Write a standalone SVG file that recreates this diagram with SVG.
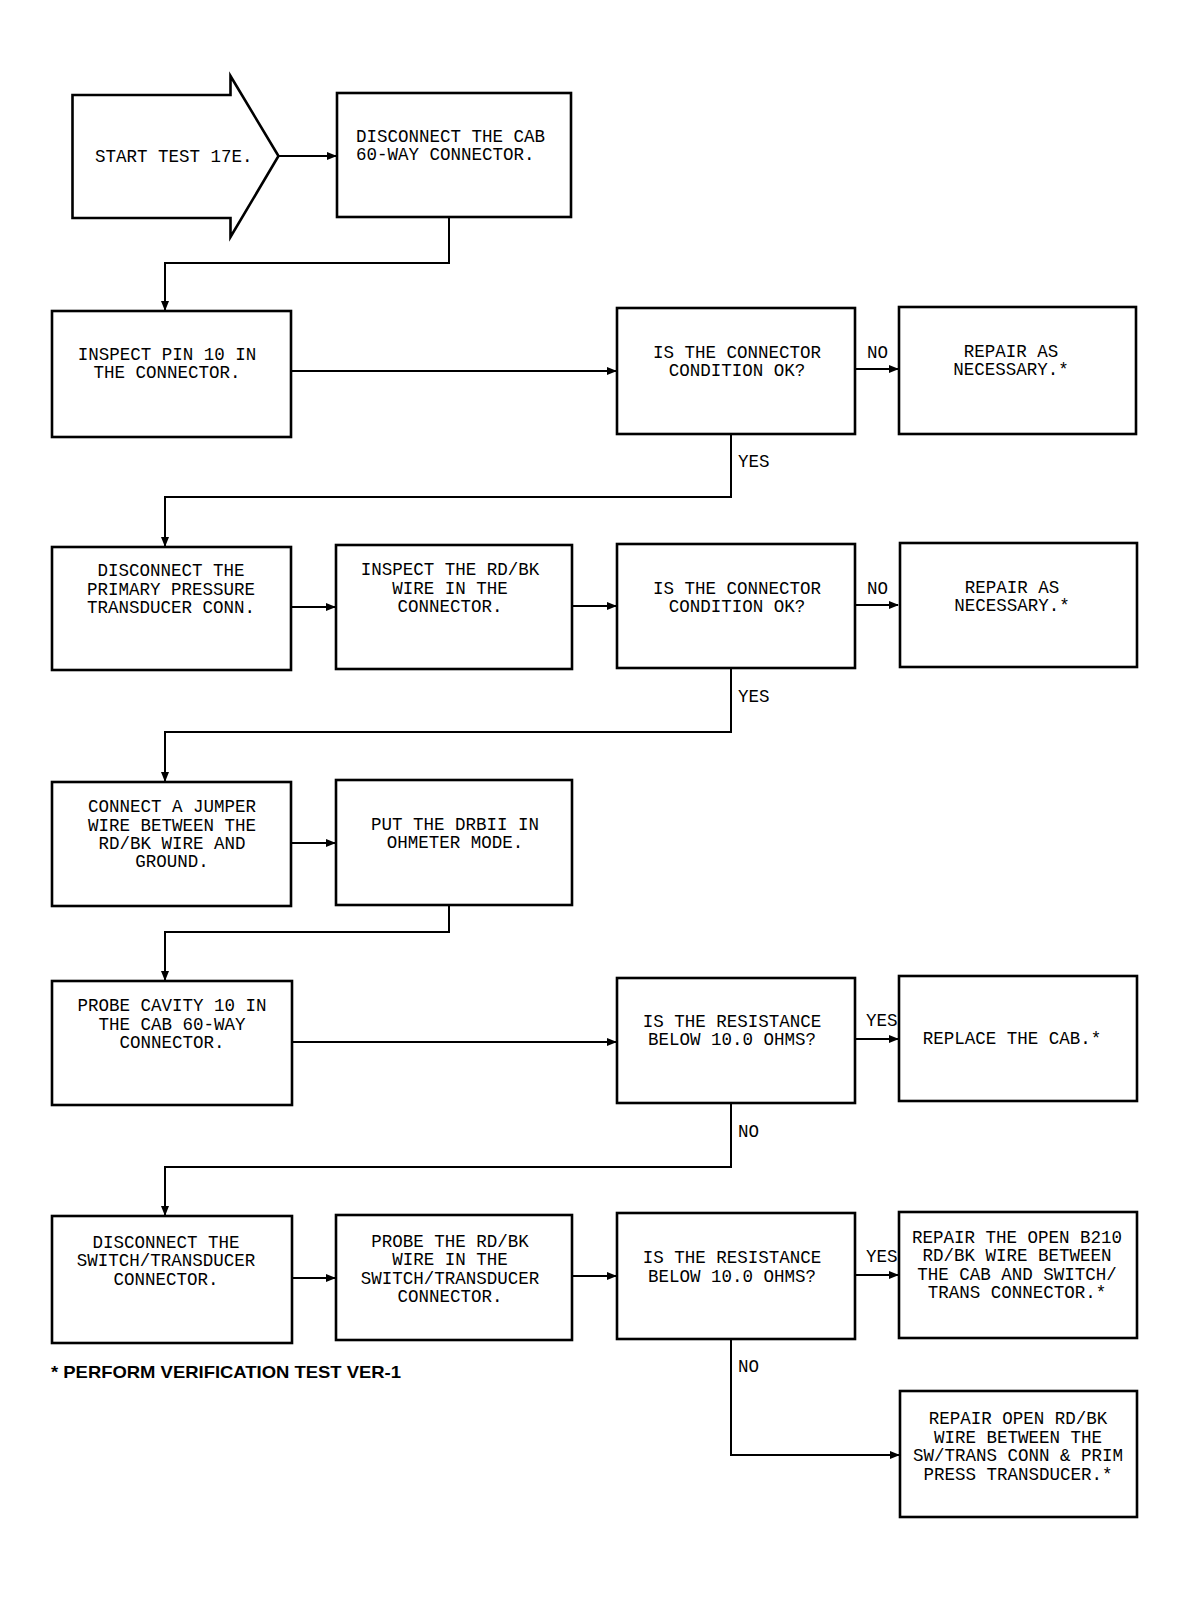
<svg xmlns="http://www.w3.org/2000/svg" width="1194" height="1602" viewBox="0 0 1194 1602">
<style>
.box{fill:#fff;stroke:#000;stroke-width:2.6}
.t{font-family:"Liberation Mono","DejaVu Sans Mono",monospace;font-size:17.5px;fill:#000;text-anchor:middle}
.ts{text-anchor:start}
.c{fill:none;stroke:#000;stroke-width:2}
.lbl{font-family:"Liberation Mono","DejaVu Sans Mono",monospace;font-size:17.5px;fill:#000}
.note{font-family:"Liberation Sans",Arial,sans-serif;font-weight:bold;font-size:17px;fill:#000}
</style>
<defs>
<marker id="ah" markerWidth="10" markerHeight="8" refX="9" refY="4" orient="auto" markerUnits="userSpaceOnUse">
<path d="M0,0 L10,4 L0,8 Z" fill="#000"/>
</marker>
</defs>
<rect width="1194" height="1602" fill="#fff"/>

<g id="connectors">
<line class="c" x1="279" y1="156" x2="336" y2="156" marker-end="url(#ah)"/>
<polyline class="c" points="449,217 449,263 165,263 165,310" marker-end="url(#ah)"/>
<line class="c" x1="291" y1="371" x2="616" y2="371" marker-end="url(#ah)"/>
<line class="c" x1="855" y1="369" x2="898" y2="369" marker-end="url(#ah)"/>
<polyline class="c" points="731,434 731,497 165,497 165,546" marker-end="url(#ah)"/>
<line class="c" x1="291" y1="607" x2="335" y2="607" marker-end="url(#ah)"/>
<line class="c" x1="572" y1="606" x2="616" y2="606" marker-end="url(#ah)"/>
<line class="c" x1="855" y1="605" x2="898" y2="605" marker-end="url(#ah)"/>
<polyline class="c" points="731,668 731,732 165,732 165,781" marker-end="url(#ah)"/>
<line class="c" x1="291" y1="843" x2="335" y2="843" marker-end="url(#ah)"/>
<polyline class="c" points="449,905 449,932 165,932 165,980" marker-end="url(#ah)"/>
<line class="c" x1="292" y1="1042" x2="616" y2="1042" marker-end="url(#ah)"/>
<line class="c" x1="855" y1="1039" x2="898" y2="1039" marker-end="url(#ah)"/>
<polyline class="c" points="731,1103 731,1167 165,1167 165,1215" marker-end="url(#ah)"/>
<line class="c" x1="292" y1="1278" x2="335" y2="1278" marker-end="url(#ah)"/>
<line class="c" x1="572" y1="1276" x2="616" y2="1276" marker-end="url(#ah)"/>
<line class="c" x1="855" y1="1275" x2="898" y2="1275" marker-end="url(#ah)"/>
<polyline class="c" points="731,1339 731,1455 899,1455" marker-end="url(#ah)"/>
<text class="lbl" x="867" y="358">NO</text>
<text class="lbl" x="738" y="467">YES</text>
<text class="lbl" x="867" y="594">NO</text>
<text class="lbl" x="738" y="702">YES</text>
<text class="lbl" x="866" y="1026">YES</text>
<text class="lbl" x="738" y="1137">NO</text>
<text class="lbl" x="866" y="1262">YES</text>
<text class="lbl" x="738" y="1372">NO</text>
</g>

<g id="start">
<polygon class="box" points="72.5,95 230.5,95 230.5,76 278.5,156 230.5,237 230.5,218 72.5,218"/>
<text class="t ts" x="95" y="162">START TEST 17E.</text>
</g>

<g id="n1">
<rect class="box" x="337" y="93" width="234" height="124"/>
<text class="t ts" x="356" y="142">DISCONNECT THE CAB</text>
<text class="t ts" x="356" y="160">60-WAY CONNECTOR.</text>
</g>

<g id="n2">
<rect class="box" x="52" y="311" width="239" height="126"/>
<text class="t" x="167" y="360">INSPECT PIN 10 IN</text>
<text class="t" x="167" y="378">THE CONNECTOR.</text>
</g>

<g id="d1">
<rect class="box" x="617" y="308" width="238" height="126"/>
<text class="t" x="737" y="358">IS THE CONNECTOR</text>
<text class="t" x="737" y="376">CONDITION OK?</text>
</g>

<g id="r1">
<rect class="box" x="899" y="307" width="237" height="127"/>
<text class="t" x="1011" y="357">REPAIR AS</text>
<text class="t" x="1011" y="375">NECESSARY.*</text>
</g>

<g id="n3">
<rect class="box" x="52" y="547" width="239" height="123"/>
<text class="t" x="171" y="576">DISCONNECT THE</text>
<text class="t" x="171" y="595">PRIMARY PRESSURE</text>
<text class="t" x="171" y="613">TRANSDUCER CONN.</text>
</g>

<g id="n4">
<rect class="box" x="336" y="545" width="236" height="124"/>
<text class="t" x="450" y="575">INSPECT THE RD/BK</text>
<text class="t" x="450" y="594">WIRE IN THE</text>
<text class="t" x="450" y="612">CONNECTOR.</text>
</g>

<g id="d2">
<rect class="box" x="617" y="544" width="238" height="124"/>
<text class="t" x="737" y="594">IS THE CONNECTOR</text>
<text class="t" x="737" y="612">CONDITION OK?</text>
</g>

<g id="r2">
<rect class="box" x="900" y="543" width="237" height="124"/>
<text class="t" x="1012" y="593">REPAIR AS</text>
<text class="t" x="1012" y="611">NECESSARY.*</text>
</g>

<g id="n5">
<rect class="box" x="52" y="782" width="239" height="124"/>
<text class="t" x="172" y="812">CONNECT A JUMPER</text>
<text class="t" x="172" y="831">WIRE BETWEEN THE</text>
<text class="t" x="172" y="849">RD/BK WIRE AND</text>
<text class="t" x="172" y="867">GROUND.</text>
</g>

<g id="n6">
<rect class="box" x="336" y="780" width="236" height="125"/>
<text class="t" x="455" y="830">PUT THE DRBII IN</text>
<text class="t" x="455" y="848">OHMETER MODE.</text>
</g>

<g id="n7">
<rect class="box" x="52" y="981" width="240" height="124"/>
<text class="t" x="172" y="1011">PROBE CAVITY 10 IN</text>
<text class="t" x="172" y="1030">THE CAB 60-WAY</text>
<text class="t" x="172" y="1048">CONNECTOR.</text>
</g>

<g id="d3">
<rect class="box" x="617" y="978" width="238" height="125"/>
<text class="t" x="732" y="1027">IS THE RESISTANCE</text>
<text class="t" x="732" y="1045">BELOW 10.0 OHMS?</text>
</g>

<g id="r3">
<rect class="box" x="899" y="976" width="238" height="125"/>
<text class="t" x="1012" y="1044">REPLACE THE CAB.*</text>
</g>

<g id="n8">
<rect class="box" x="52" y="1216" width="240" height="127"/>
<text class="t" x="166" y="1248">DISCONNECT THE</text>
<text class="t" x="166" y="1266">SWITCH/TRANSDUCER</text>
<text class="t" x="166" y="1285">CONNECTOR.</text>
</g>

<g id="n9">
<rect class="box" x="336" y="1215" width="236" height="125"/>
<text class="t" x="450" y="1247">PROBE THE RD/BK</text>
<text class="t" x="450" y="1265">WIRE IN THE</text>
<text class="t" x="450" y="1284">SWITCH/TRANSDUCER</text>
<text class="t" x="450" y="1302">CONNECTOR.</text>
</g>

<g id="d4">
<rect class="box" x="617" y="1213" width="238" height="126"/>
<text class="t" x="732" y="1263">IS THE RESISTANCE</text>
<text class="t" x="732" y="1282">BELOW 10.0 OHMS?</text>
</g>

<g id="r4">
<rect class="box" x="899" y="1212" width="238" height="126"/>
<text class="t" x="1017" y="1243">REPAIR THE OPEN B210</text>
<text class="t" x="1017" y="1261">RD/BK WIRE BETWEEN</text>
<text class="t" x="1017" y="1280">THE CAB AND SWITCH/</text>
<text class="t" x="1017" y="1298">TRANS CONNECTOR.*</text>
</g>

<g id="r5">
<rect class="box" x="900" y="1391" width="237" height="126"/>
<text class="t" x="1018" y="1424">REPAIR OPEN RD/BK</text>
<text class="t" x="1018" y="1443">WIRE BETWEEN THE</text>
<text class="t" x="1018" y="1461">SW/TRANS CONN &amp; PRIM</text>
<text class="t" x="1018" y="1480">PRESS TRANSDUCER.*</text>
</g>

<g id="footnote">
<text class="note" x="51" y="1378" textLength="350" lengthAdjust="spacingAndGlyphs">* PERFORM VERIFICATION TEST VER-1</text>
</g>
</svg>
